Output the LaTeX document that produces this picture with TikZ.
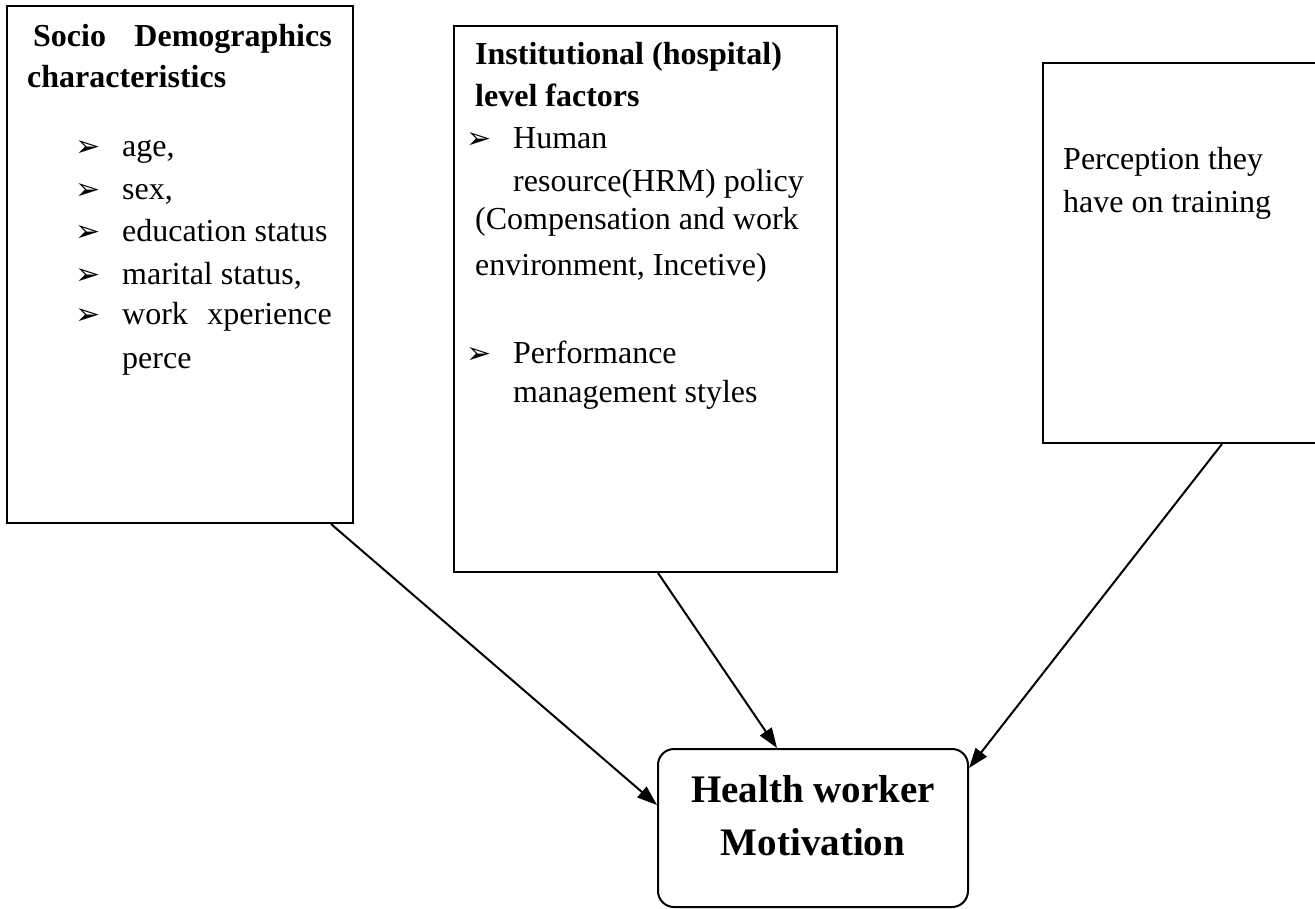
\documentclass[tikz,border=0pt]{standalone}
\usepackage{fontspec}
\setmainfont{Liberation Serif}
\newfontfamily\bulletfont{DejaVu Sans}
\usetikzlibrary{arrows.meta,calc}
\tikzset{
  box/.style={draw=black, line width=2pt, fill=none, inner sep=0pt, anchor=north west},
  txt/.style={anchor=base west, inner sep=0pt, font=\fontsize{32}{42}\selectfont},
  hd/.style={anchor=base west, inner sep=0pt, font=\fontsize{32}{42}\selectfont\bfseries},
  bul/.style={anchor=base west, inner sep=0pt, font=\fontsize{30}{30}\bulletfont},
  arr/.style={line width=2pt, -{Triangle[length=20pt,width=14pt]}},
}
\begin{document}
\begin{tikzpicture}[x=1pt,y=-1pt]
\useasboundingbox (0,0) rectangle (1315,909);
% boxes
\node[box, minimum width=346pt, minimum height=517pt] (socio) at (6,5) {};
\node[box, minimum width=383pt, minimum height=546pt] (inst) at (453,25) {};
\node[box, minimum width=290pt, minimum height=380pt] (perc) at (1042,62) {};
\node[draw=black, line width=2pt, rounded corners=16pt, minimum width=310pt, minimum height=158pt, inner sep=0pt] (hw) at (813,828) {};
% box 1 text
\node[hd] (s1) at (33,47) {Socio};
\node[hd, anchor=base east] (s2) at (332,47) {Demographics};
\node[hd] (s3) at (27,88) {characteristics};
\node[bul] (b1) at (75,157) {➢};
\node[txt] (t1) at (122,157) {age,};
\node[bul] (b2) at (75,200) {➢};
\node[txt] (t2) at (122,200) {sex,};
\node[bul] (b3) at (75,242) {➢};
\node[txt] (t3) at (122,242) {education status};
\node[bul] (b4) at (75,285) {➢};
\node[txt] (t4) at (122,285) {marital status,};
\node[bul] (b5) at (75,325) {➢};
\node[txt] (t5) at (122,325) {work};
\node[txt, anchor=base east] (t5b) at (332,325) {xperience};
\node[txt] (t6) at (122,368) {perce};
% box 2 text
\node[hd] (i1) at (475,65) {Institutional (hospital)};
\node[hd] (i2) at (475,107) {level factors};
\node[bul] (c1) at (466,149) {➢};
\node[txt] (j1) at (513,149) {Human};
\node[txt] (j2) at (513,192) {resource(HRM) policy};
\node[txt] (j3) at (475,230) {(Compensation and work};
\node[txt] (j4) at (475,276) {environment, Incetive)};
\node[bul] (c2) at (466,363) {➢};
\node[txt] (j5) at (513,363) {Performance};
\node[txt] (j6) at (513,402) {management styles};
% box 3 text
\node[txt] (p1) at (1063,170) {Perception they};
\node[txt] (p2) at (1063,213) {have on training};
% box 4 text
\node[anchor=base, inner sep=0pt, font=\fontsize{39}{53}\selectfont\bfseries] (h1) at (813,802) {Health worker};
\node[anchor=base, inner sep=0pt, font=\fontsize{39}{53}\selectfont\bfseries] (h2) at (813,855) {Motivation};
% arrows
\draw[arr] ([xshift=-23pt]socio.south east) -- ([yshift=23pt]hw.west);
\draw[arr] ([xshift=205pt]inst.south west) -- ([xshift=-36pt]hw.north);
\draw[arr] ([xshift=180pt]perc.south west) -- ([yshift=60pt]hw.east);
\end{tikzpicture}
\end{document}
